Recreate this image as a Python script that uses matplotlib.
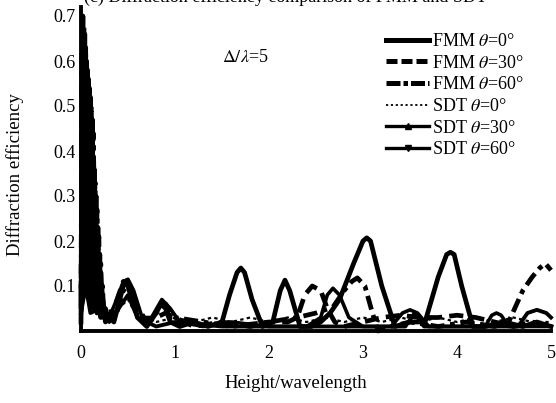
import matplotlib
matplotlib.use("Agg")
import matplotlib.pyplot as plt
from matplotlib.lines import Line2D

plt.rcParams['font.family'] = ['Liberation Serif', 'DejaVu Serif']
plt.rcParams['mathtext.fontset'] = 'stix'

# --- FMM, theta = 0 deg ---
fmm0_x = [0.00, 0.01, 0.02, 0.03, 0.04, 0.05, 0.06, 0.07, 0.08, 0.09, 0.10, 0.11, 0.12, 0.13,
          0.14, 0.15, 0.16, 0.17, 0.18, 0.19, 0.20, 0.21, 0.22, 0.24, 0.26, 0.30, 0.35, 0.40,
          0.45, 0.50, 0.55, 0.60, 0.70, 0.80, 0.85, 0.90, 0.95, 1.05, 1.20, 1.35, 1.50, 1.58,
          1.66, 1.70, 1.74, 1.82, 1.93, 2.04, 2.12, 2.17, 2.22, 2.33, 2.45, 2.55, 2.65, 2.75,
          2.90, 3.00, 3.04, 3.08, 3.20, 3.34, 3.50, 3.66, 3.80, 3.89, 3.93, 3.97, 4.05, 4.17,
          4.30, 4.50, 4.70, 4.85, 5.00]
fmm0_y = [0.02, 0.40, 0.70, 0.25, 0.66, 0.12, 0.60, 0.30, 0.56, 0.08, 0.52, 0.22, 0.47, 0.05,
          0.36, 0.15, 0.30, 0.04, 0.23, 0.10, 0.17, 0.03, 0.10, 0.05, 0.02, 0.03, 0.02, 0.06,
          0.10, 0.11, 0.08, 0.03, 0.01, 0.04, 0.06, 0.05, 0.02, 0.01, 0.02, 0.01, 0.02, 0.08,
          0.13, 0.14, 0.13, 0.07, 0.01, 0.02, 0.09, 0.113, 0.09, 0.01, 0.01, 0.02, 0.04, 0.07,
          0.15, 0.20, 0.207, 0.20, 0.10, 0.01, 0.02, 0.02, 0.12, 0.17, 0.175, 0.17, 0.10, 0.01,
          0.01, 0.02, 0.01, 0.02, 0.01]

# --- FMM, theta = 30 deg ---
fmm30_x = [0.00, 0.015, 0.03, 0.045, 0.06, 0.075, 0.09, 0.105, 0.12, 0.135, 0.15, 0.165, 0.18,
           0.20, 0.25, 0.30, 0.35, 0.40, 0.45, 0.50, 0.55, 0.60, 0.70, 0.80, 0.90, 1.00, 1.20,
           1.50, 1.80, 2.00, 2.20, 2.30, 2.38, 2.46, 2.55, 2.62, 2.70, 2.80, 3.00, 3.20, 3.40,
           3.60, 3.80, 4.00, 4.20, 4.40, 4.60, 4.80, 5.00]
fmm30_y = [0.08, 0.55, 0.15, 0.62, 0.10, 0.52, 0.20, 0.46, 0.08, 0.38, 0.12, 0.28, 0.05,
           0.12, 0.04, 0.03, 0.05, 0.08, 0.11, 0.10, 0.06, 0.04, 0.02, 0.03, 0.04, 0.03, 0.01,
           0.02, 0.01, 0.02, 0.02, 0.03, 0.08, 0.10, 0.09, 0.05, 0.02, 0.01, 0.02, 0.03, 0.035,
           0.03, 0.03, 0.035, 0.03, 0.02, 0.01, 0.02, 0.01]

# --- FMM, theta = 60 deg ---
fmm60_x = [0.00, 0.01, 0.02, 0.03, 0.04, 0.05, 0.06, 0.07, 0.08, 0.09, 0.10, 0.11, 0.12, 0.13,
           0.14, 0.15, 0.16, 0.17, 0.18, 0.19, 0.20, 0.21, 0.22, 0.23, 0.24, 0.26, 0.30, 0.38,
           0.45, 0.50, 0.55, 0.70, 0.85, 0.90, 1.00, 1.30, 1.60, 2.00, 2.30, 2.50, 2.68, 2.80,
           2.88, 2.94, 3.02, 3.10, 3.16, 3.30, 3.50, 3.80, 4.10, 4.40, 4.55, 4.62, 4.70, 4.80,
           4.88, 4.94, 5.00]
fmm60_y = [0.05, 0.62, 0.30, 0.68, 0.20, 0.63, 0.35, 0.58, 0.15, 0.54, 0.40, 0.50, 0.12, 0.44,
           0.28, 0.33, 0.10, 0.27, 0.18, 0.21, 0.06, 0.15, 0.09, 0.10, 0.03, 0.05, 0.02, 0.04,
           0.09, 0.10, 0.07, 0.02, 0.05, 0.06, 0.03, 0.02, 0.01, 0.02, 0.03, 0.04, 0.053, 0.09,
           0.11, 0.118, 0.10, 0.04, 0.00, 0.01, 0.02, 0.01, 0.02, 0.01, 0.02, 0.053, 0.09, 0.12,
           0.14, 0.15, 0.135]

# --- SDT, theta = 0 deg ---
sdt0_x = [0.00, 0.02, 0.04, 0.06, 0.08, 0.10, 0.12, 0.14, 0.16, 0.18, 0.20, 0.22, 0.25, 0.30,
          0.35, 0.40, 0.50, 0.60, 0.80, 1.00, 1.20, 1.40, 1.60, 1.80, 2.00, 2.20, 2.40, 2.60,
          2.80, 3.00, 3.20, 3.40, 3.60, 3.80, 4.00, 4.20, 4.40, 4.60, 4.80, 5.00]
sdt0_y = [0.10, 0.45, 0.20, 0.55, 0.25, 0.48, 0.15, 0.34, 0.10, 0.20, 0.06, 0.09, 0.04, 0.05,
          0.02, 0.05, 0.07, 0.03, 0.02, 0.03, 0.02, 0.03, 0.02, 0.03, 0.02, 0.03, 0.02, 0.03,
          0.02, 0.03, 0.02, 0.03, 0.02, 0.03, 0.02, 0.03, 0.02, 0.03, 0.02, 0.02]

# --- SDT, theta = 30 deg ---
sdt30_x = [0.00, 0.05, 0.10, 0.20, 0.30, 0.38, 0.45, 0.50, 0.56, 0.65, 0.75, 0.86, 0.95, 1.05,
           1.30, 1.60, 2.00, 2.40, 2.55, 2.62, 2.68, 2.75, 2.85, 3.00, 3.30, 3.42, 3.50, 3.58,
           3.70, 4.00, 4.30, 4.37, 4.42, 4.47, 4.55, 4.80, 5.00]
sdt30_y = [0.03, 0.15, 0.06, 0.05, 0.03, 0.07, 0.11, 0.115, 0.09, 0.03, 0.03, 0.07, 0.05, 0.02,
           0.01, 0.02, 0.01, 0.01, 0.03, 0.08, 0.095, 0.08, 0.03, 0.01, 0.01, 0.04, 0.047, 0.04,
           0.01, 0.01, 0.01, 0.035, 0.04, 0.035, 0.01, 0.01, 0.01]

# --- SDT, theta = 60 deg ---
sdt60_x = [0.00, 0.05, 0.10, 0.20, 0.30, 0.40, 0.50, 0.60, 0.80, 1.00, 1.50, 2.00, 2.50, 3.00,
           3.45, 3.55, 3.65, 4.00, 4.40, 4.65, 4.75, 4.85, 4.95, 5.00]
sdt60_y = [0.04, 0.10, 0.04, 0.05, 0.02, 0.05, 0.08, 0.03, 0.01, 0.02, 0.01, 0.01, 0.01, 0.01,
           0.01, 0.04, 0.01, 0.01, 0.01, 0.01, 0.04, 0.047, 0.04, 0.03]

fig = plt.figure(figsize=(5.56, 4.03), dpi=100)
ax = fig.add_axes([81 / 556, 1 - 331 / 403, 470 / 556, 324 / 403])

ax.plot(fmm0_x, fmm0_y, color='black', lw=3.4, solid_joinstyle='round', clip_on=False)
ax.plot(fmm30_x, fmm30_y, color='black', lw=3.4, dashes=(3, 1.5), clip_on=False)
ax.plot(fmm60_x, fmm60_y, color='black', lw=3.4, dashes=(3, 1.2, 1, 1.2), clip_on=False)
ax.plot(sdt0_x, sdt0_y, color='black', lw=1.6, dashes=(1.5, 1.5), clip_on=False)
ax.plot(sdt30_x, sdt30_y, color='black', lw=2.6, clip_on=False)
ax.plot(sdt60_x, sdt60_y, color='black', lw=2.8, clip_on=False)

ax.set_xlim(0, 5)
ax.set_ylim(0, 0.72)
ax.set_xticks([0, 1, 2, 3, 4, 5])
ax.set_yticks([0.1, 0.2, 0.3, 0.4, 0.5, 0.6, 0.7])
ax.tick_params(length=0, labelsize=13)
ax.tick_params(axis='x', pad=10)
ax.tick_params(axis='y', pad=4)
for side in ['top', 'right']:
    ax.spines[side].set_visible(False)
for side in ['left', 'bottom']:
    ax.spines[side].set_linewidth(2.8)

fig.text(15 / 556, 1 - 175 / 403, 'Diffraction efficiency', rotation=90,
         ha='center', va='center', fontsize=13.5)
fig.text(296 / 556, 1 - 384 / 403, 'Height/wavelength', ha='center', va='center', fontsize=13.5)
fig.text(222 / 556, 1 - 57 / 403, r'$\mathit{\Delta}/\lambda$=5', ha='left', va='center',
         fontsize=13)
fig.text(285 / 556, 1 - 2 / 403, '(c) Diffraction efficiency comparison of FMM and SDT',
         ha='center', va='baseline', fontsize=13)

handles = [
    Line2D([], [], color='black', lw=3.6),
    Line2D([], [], color='black', lw=3.6, dashes=(2.2, 0.8)),
    Line2D([], [], color='black', lw=3.6, dashes=(2.8, 0.6, 0.9, 0.6)),
    Line2D([], [], color='black', lw=1.3, dashes=(1.2, 1.5)),
    Line2D([], [], color='black', lw=2.4, marker='^', markersize=4),
    Line2D([], [], color='black', lw=2.4, marker='v', markersize=4),
]
labels = [r'FMM $\theta$=0°', r'FMM $\theta$=30°', r'FMM $\theta$=60°',
          r'SDT $\theta$=0°', r'SDT $\theta$=30°', r'SDT $\theta$=60°']
fig.legend(handles, labels, loc='upper left', bbox_to_anchor=(386 / 556, 1 - 33 / 403),
           frameon=False, fontsize=13, handlelength=2.4, handletextpad=0.15,
           labelspacing=0.26, borderpad=0, borderaxespad=0, numpoints=1)

fig.savefig('out.png', dpi=100)
